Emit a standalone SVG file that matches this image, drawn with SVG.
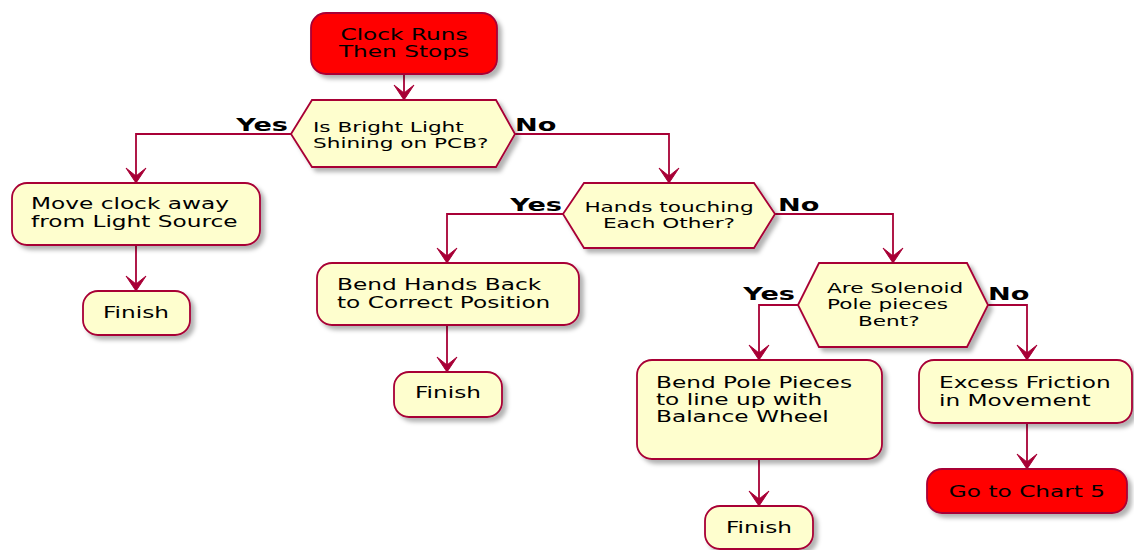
<svg xmlns="http://www.w3.org/2000/svg" width="1134" height="550" viewBox="0 0 1134 550">
<style>
.box{fill:#FEFECE;stroke:#A80036;stroke-width:1.8;filter:url(#sh)}
.red{fill:#FF0000;stroke:#A80036;stroke-width:1.8;filter:url(#sh)}
.t{font-family:"DejaVu Sans",sans-serif;font-size:15px;fill:#000}
.d{font-family:"DejaVu Sans",sans-serif;font-size:13.5px;fill:#000}
.l{font-family:"DejaVu Sans",sans-serif;font-size:17.5px;font-weight:bold;fill:#000}
.c{text-anchor:middle}
.e{text-anchor:end}
.ln{fill:none;stroke:#A80036;stroke-width:1.8;marker-end:url(#ar)}
</style>
<defs>
<filter id="sh" x="-10%" y="-10%" width="130%" height="140%">
<feGaussianBlur in="SourceAlpha" stdDeviation="2"/>
<feOffset dx="4" dy="4" result="b"/>
<feFlood flood-color="#000" flood-opacity="0.3"/>
<feComposite in2="b" operator="in"/>
<feMerge><feMergeNode/><feMergeNode in="SourceGraphic"/></feMerge>
</filter>
<marker id="ar" viewBox="-16 -11 17 22" markerWidth="17" markerHeight="22" refX="0" refY="0" orient="auto" markerUnits="userSpaceOnUse">
<path d="M0,0 L-15,-10 L-7,0 L-15,10 Z" fill="#A80036" stroke="#A80036" stroke-width="1"/>
</marker>
</defs>
<rect width="1134" height="550" fill="#fff"/>
<g id="connectors">
<path class="ln" d="M404,73 L404,100"/>
<path class="ln" d="M291,134 L136,134 L136,183"/>
<path class="ln" d="M136,245 L136,291"/>
<path class="ln" d="M515,134 L669,134 L669,183"/>
<path class="ln" d="M563,214 L447,214 L447,263"/>
<path class="ln" d="M447,325 L447,372"/>
<path class="ln" d="M775,214 L893,214 L893,263"/>
<path class="ln" d="M798,305 L759,305 L759,360"/>
<path class="ln" d="M759,459 L759,506"/>
<path class="ln" d="M988,305 L1027,305 L1027,360"/>
<path class="ln" d="M1027,423 L1027,469"/>
</g>
<g id="start">
<rect class="red" x="311" y="13" width="186" height="61" rx="15"/>
<text class="t c" transform="translate(404,40) scale(1.55,1)">Clock Runs</text>
<text class="t c" transform="translate(404,57) scale(1.55,1)">Then Stops</text>
</g>
<g id="d1">
<polygon class="box" points="291,134 312,100 496,100 515,134 496,167 312,167"/>
<text class="d" transform="translate(313,132) scale(1.6,1)">Is Bright Light</text>
<text class="d" transform="translate(313,148) scale(1.6,1)">Shining on PCB?</text>
<text class="l e" transform="translate(288,131) scale(1.55,1)">Yes</text>
<text class="l" transform="translate(515,131) scale(1.55,1)">No</text>
</g>
<g id="a1">
<rect class="box" x="12" y="183" width="248" height="62" rx="15"/>
<text class="t" transform="translate(31,209) scale(1.55,1)">Move clock away</text>
<text class="t" transform="translate(31,227) scale(1.55,1)">from Light Source</text>
</g>
<g id="finish1">
<rect class="box" x="83" y="291" width="107" height="44" rx="15"/>
<text class="t c" transform="translate(136,318) scale(1.55,1)">Finish</text>
</g>
<g id="d2">
<polygon class="box" points="563,214 584,183 754,183 775,214 754,248 584,248"/>
<text class="d c" transform="translate(669,212) scale(1.6,1)">Hands touching</text>
<text class="d c" transform="translate(669,228) scale(1.6,1)">Each Other?</text>
<text class="l e" transform="translate(562,211) scale(1.55,1)">Yes</text>
<text class="l" transform="translate(778,211) scale(1.55,1)">No</text>
</g>
<g id="a2">
<rect class="box" x="317" y="263" width="262" height="62" rx="15"/>
<text class="t" transform="translate(337,290) scale(1.55,1)">Bend Hands Back</text>
<text class="t" transform="translate(337,308) scale(1.55,1)">to Correct Position</text>
</g>
<g id="finish2">
<rect class="box" x="394" y="372" width="108" height="45" rx="15"/>
<text class="t c" transform="translate(448,398) scale(1.55,1)">Finish</text>
</g>
<g id="d3">
<polygon class="box" points="798,305 819,263 967,263 988,305 967,347 819,347"/>
<text class="d" transform="translate(827,293) scale(1.6,1)">Are Solenoid</text>
<text class="d" transform="translate(827,309) scale(1.6,1)">Pole pieces</text>
<text class="d" transform="translate(858,326) scale(1.6,1)">Bent?</text>
<text class="l e" transform="translate(795,300) scale(1.55,1)">Yes</text>
<text class="l" transform="translate(988,300) scale(1.55,1)">No</text>
</g>
<g id="a3">
<rect class="box" x="637" y="360" width="245" height="99" rx="15"/>
<text class="t" transform="translate(656,388) scale(1.55,1)">Bend Pole Pieces</text>
<text class="t" transform="translate(656,405) scale(1.55,1)">to line up with</text>
<text class="t" transform="translate(656,422) scale(1.55,1)">Balance Wheel</text>
</g>
<g id="finish3">
<rect class="box" x="705" y="506" width="108" height="43" rx="15"/>
<text class="t c" transform="translate(759,533) scale(1.55,1)">Finish</text>
</g>
<g id="a4">
<rect class="box" x="919" y="360" width="213" height="63" rx="15"/>
<text class="t" transform="translate(939,388) scale(1.55,1)">Excess Friction</text>
<text class="t" transform="translate(939,406) scale(1.55,1)">in Movement</text>
</g>
<g id="end">
<rect class="red" x="927" y="469" width="200" height="44" rx="15"/>
<text class="t c" transform="translate(1027,497) scale(1.55,1)">Go to Chart 5</text>
</g>
</svg>
